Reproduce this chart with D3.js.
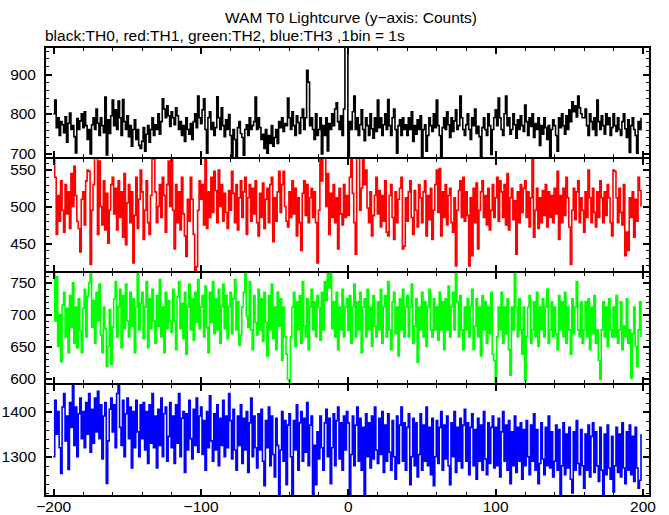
<!DOCTYPE html>
<html><head><meta charset="utf-8">
<script src="https://cdn.jsdelivr.net/npm/d3@7"></script>
<style>body{margin:0;background:#fff} svg{display:block} text{font-family:"Liberation Sans",Arial,Helvetica,sans-serif;}</style>
</head><body><svg id="c" width="669" height="515"></svg>
<script>
const title = "WAM T0 Lightcurve (y\u2212axis: Counts)";
const subtitle = "black:TH0, red:TH1, green:TH2, blue:TH3 ,1bin = 1s";
const tStart = -200; // time of the first 1 s bin

const th0 = [
800,835,765,790,745,780,772,752,792,728,776,802,760,770,742,701,788,760,782,800,
765,805,770,735,760,698,772,790,760,812,776,745,790,770,752,842,696,785,750,795,
835,770,810,760,832,790,745,836,780,760,795,742,770,718,760,785,735,760,720,712,
730,765,705,748,770,728,760,790,745,772,760,800,748,780,838,812,790,820,795,768,
805,790,772,815,795,760,780,745,770,730,790,760,748,775,735,780,800,765,845,790,
775,810,838,760,700,790,805,760,778,745,765,843,790,760,815,770,742,785,760,798,
745,690,760,735,692,765,780,750,740,695,760,772,745,790,760,770,780,842,760,790,
765,735,748,712,760,700,745,725,770,718,740,760,725,780,765,790,755,775,770,840,
790,760,805,770,745,795,778,750,790,812,760,790,910,880,770,790,760,735,800,745,
760,790,698,770,745,790,706,775,760,800,770,812,828,780,760,795,745,812,1010,995,
682,780,760,805,845,760,790,745,772,810,760,732,790,770,745,800,762,738,790,755,
835,765,790,745,772,800,760,836,770,745,790,812,760,700,770,785,745,790,760,772,
745,790,760,805,730,770,748,785,760,795,690,760,772,705,745,790,770,755,800,765,
835,770,745,690,765,790,760,805,772,740,790,755,782,810,760,770,845,790,760,745,
772,800,760,735,790,770,812,750,768,742,690,765,790,760,745,800,770,697,760,790,
810,770,840,790,760,745,800,845,770,790,748,760,800,772,738,785,760,795,770,755,
822,780,745,790,768,800,740,775,760,790,720,770,748,790,765,735,770,690,760,785,
770,745,705,790,765,800,770,748,795,760,810,780,830,805,820,792,845,815,800,790,
790,812,770,745,800,780,760,790,745,835,780,760,795,770,748,800,772,790,745,765,
800,770,755,790,760,745,780,800,762,740,785,702,770,790,760,745,700,780,760,790];

const th1 = [
575,540,462,515,480,535,495,465,530,490,520,470,545,500,555,515,480,470,438,510,
520,475,535,550,548,421,495,530,575,570,462,562,500,475,535,468,518,450,495,530,
540,490,525,468,535,485,520,458,545,448,505,530,478,520,423,488,540,470,510,550,
520,455,495,535,478,462,515,570,565,520,478,500,530,485,540,515,465,530,562,500,
575,495,442,530,478,520,468,540,490,460,432,510,480,540,510,462,412,418,495,535,
510,530,475,575,470,520,485,540,492,548,522,478,550,500,530,480,518,492,470,522,
495,548,518,478,530,468,512,535,485,520,540,462,512,530,480,525,490,535,478,460,
518,485,532,470,510,525,478,530,540,452,512,480,520,548,492,530,548,500,480,472,
520,485,535,490,525,460,512,478,440,518,535,488,530,478,512,525,485,520,478,423,
495,572,535,568,570,500,545,462,518,485,530,478,512,442,525,490,475,530,485,515,
488,540,570,518,478,435,572,568,495,525,572,530,550,498,478,520,460,488,515,540,
490,522,472,515,480,535,465,460,515,530,485,455,520,478,510,525,540,442,446,512,
480,520,535,485,462,522,495,472,530,512,478,520,535,460,515,482,525,455,495,530,
550,492,552,460,520,485,530,475,515,525,478,465,512,419,495,522,535,485,540,480,
520,488,419,512,433,525,478,532,442,495,520,535,485,515,475,525,468,495,530,485,
512,540,480,535,520,485,530,475,545,468,512,525,482,508,435,520,478,530,492,525,
535,485,520,472,512,570,458,495,525,470,512,478,522,488,530,472,520,485,515,478,
525,490,548,455,515,478,525,488,540,512,472,421,495,525,482,520,535,478,512,495,
465,520,485,550,512,478,525,492,472,520,485,535,512,478,520,488,530,512,478,460,
550,548,512,478,525,492,475,530,433,465,440,512,485,520,458,510,480,540,522,500];

const th2 = [
765,690,760,650,700,626,715,735,665,710,640,730,680,750,655,712,648,725,675,640,
710,740,665,728,750,767,680,722,655,735,690,748,668,640,712,678,618,650,708,622,
680,725,752,665,712,740,648,730,678,748,690,665,735,682,725,640,712,768,676,718,
735,662,712,752,648,725,678,740,690,655,730,682,755,665,712,640,735,678,722,690,
672,740,690,645,728,752,678,718,662,735,638,712,748,676,725,660,735,688,755,678,
712,730,665,745,680,640,735,688,752,670,725,676,740,655,712,748,678,730,662,712,
735,670,725,755,676,720,652,668,712,735,767,698,680,752,676,645,730,688,668,740,
676,725,658,735,688,635,730,676,748,662,712,645,735,682,725,628,712,665,638,598,
595,665,712,735,650,720,676,730,655,752,682,665,725,645,712,740,676,720,665,730,
712,660,735,676,752,722,767,742,766,678,720,665,735,645,712,676,740,665,712,725,
675,730,655,712,748,665,720,676,735,640,712,725,665,740,676,712,650,730,682,665,
720,676,740,655,712,730,665,752,676,645,720,735,670,712,635,725,676,740,665,712,
730,665,712,748,655,682,725,625,712,676,735,665,720,650,712,740,676,665,725,676,
712,660,735,676,720,645,725,676,745,665,712,735,676,768,720,665,730,676,645,712,
676,725,665,712,740,645,682,725,665,712,635,730,676,720,655,712,670,735,638,628,
595,665,712,676,735,655,712,670,725,645,605,712,676,767,712,665,725,676,638,712,
596,665,712,730,655,676,720,665,735,650,712,676,725,665,712,740,655,676,720,665,
712,670,645,730,676,720,665,735,655,712,676,638,725,670,712,752,676,665,720,655,
676,720,665,725,645,712,670,730,655,676,628,598,676,720,665,712,650,725,676,665,
712,665,730,655,676,720,645,682,665,725,655,676,600,670,712,650,618,676,720,665];

const th3 = [
1300,1425,1350,1400,1320,1263,1410,1440,1335,1390,1272,1420,1365,1458,1325,1410,1300,1395,1430,1340,
1400,1320,1420,1350,1440,1310,1405,1330,1430,1355,1445,1340,1415,1295,1390,1420,1241,1335,1405,1430,
1355,1415,1320,1440,1461,1365,1325,1425,1300,1395,1430,1340,1410,1275,1400,1320,1425,1355,1300,1415,
1340,1420,1315,1400,1285,1415,1330,1440,1320,1390,1275,1405,1325,1430,1300,1395,1410,1290,1345,1420,
1320,1390,1285,1415,1330,1440,1300,1385,1400,1265,1395,1315,1425,1340,1295,1405,1325,1430,1310,1390,
1410,1305,1380,1270,1400,1320,1435,1335,1290,1395,1315,1415,1280,1385,1325,1425,1300,1390,1320,1440,
1380,1295,1405,1315,1270,1390,1325,1415,1285,1385,1315,1400,1265,1375,1430,1300,1390,1320,1275,1395,
1315,1405,1290,1236,1380,1320,1410,1280,1390,1305,1255,1385,1325,1215,1315,1400,1290,1380,1238,1370,
1395,1300,1215,1380,1315,1415,1270,1375,1400,1290,1385,1310,1420,1280,1370,1390,1214,1325,1238,1355,
1295,1390,1320,1270,1375,1405,1300,1385,1240,1320,1395,1280,1380,1410,1295,1375,1270,1390,1315,1400,
1375,1216,1305,1390,1280,1370,1410,1290,1385,1270,1365,1215,1395,1300,1375,1275,1390,1295,1410,1315,
1285,1385,1305,1400,1265,1370,1290,1395,1310,1270,1380,1300,1250,1390,1285,1370,1410,1290,1375,1270,
1365,1395,1238,1300,1385,1280,1375,1255,1305,1395,1270,1370,1290,1410,1280,1365,1260,1385,1236,1300,
1380,1285,1365,1400,1270,1370,1295,1390,1280,1238,1375,1300,1400,1265,1365,1290,1385,1275,1370,1405,
1290,1375,1260,1365,1395,1280,1360,1250,1385,1290,1370,1270,1400,1295,1260,1375,1285,1365,1390,1275,
1365,1280,1385,1255,1355,1400,1290,1370,1270,1380,1240,1355,1280,1390,1265,1365,1290,1375,1250,1360,
1280,1380,1300,1260,1370,1290,1395,1270,1360,1240,1285,1375,1295,1260,1365,1280,1390,1275,1355,1255,
1290,1370,1270,1360,1213,1280,1375,1260,1350,1275,1365,1250,1220,1355,1270,1380,1285,1260,1360,1280,
1230,1350,1270,1370,1255,1345,1375,1265,1355,1280,1245,1365,1270,1213,1350,1260,1370,1275,1250,1345,
1222,1280,1365,1265,1350,1255,1375,1275,1240,1355,1270,1370,1260,1345,1245,1365,1275,1230,1248,1350];

const seriesList = [th0, th1, th2, th3];
const seriesColors = ["#000000", "#ff0000", "#00ff00", "#0000ff"];
const yDomains = [[688, 969], [410.6, 566.3], [591, 767], [1213, 1461]];
const yMajorTicks = [[700, 800, 900], [450, 500, 550], [600, 650, 700, 750], [1300, 1400]];
const yMinorStep = [20, 10, 10, 20];
const xMajorTicks = [-200, -100, 0, 100, 200];
const xMinorStep = 20;
const xDomain = [-205.6, 205.1];

const left = 45, right = 650;
const panelTops = [47, 158, 272, 384];
const panelBottoms = [158, 272, 384, 496];
const FS = "15.5px";

const svg = d3.select("#c");
const x = d3.scaleLinear().domain(xDomain).range([left, right]);

svg.append("text").attr("x", 351).attr("y", 23).attr("text-anchor", "middle")
  .style("font-size", FS).text(title);
svg.append("text").attr("x", 45).attr("y", 41).attr("text-anchor", "start")
  .style("font-size", FS).text(subtitle);

const xMinor = d3.range(-200, 201, xMinorStep).filter(v => v % 100 !== 0);
const defs = svg.append("defs");

seriesList.forEach((vals, i) => {
  const top = panelTops[i], bot = panelBottoms[i];
  const y = d3.scaleLinear().domain(yDomains[i]).range([bot, top]);
  const g = svg.append("g");
  defs.append("clipPath").attr("id", "clip" + i)
    .append("rect").attr("x", left).attr("y", top).attr("width", right - left).attr("height", bot - top);

  const line = d3.line().x((d, k) => x(tStart + k)).y(d => y(d)).curve(d3.curveStepAfter);
  g.append("path").datum(vals).attr("clip-path", "url(#clip" + i + ")")
    .attr("fill", "none").attr("stroke", seriesColors[i]).attr("stroke-width", 1.6)
    .attr("stroke-linejoin", "miter").attr("d", line);

  const [y0, y1] = yDomains[i];
  const yMinor = [];
  for (let v = Math.ceil(y0 / yMinorStep[i]) * yMinorStep[i]; v <= y1; v += yMinorStep[i]) {
    if (!yMajorTicks[i].includes(v)) yMinor.push(v);
  }
  const styleAxis = (sel, w) => {
    sel.select(".domain").remove();
    sel.selectAll("line").attr("stroke", "#000").attr("stroke-width", w).attr("shape-rendering", "crispEdges");
  };

  g.append("g").attr("transform", `translate(${left},0)`)
    .call(d3.axisLeft(y).tickValues(yMinor).tickSizeInner(-4).tickSizeOuter(0).tickFormat(""))
    .call(s => styleAxis(s, 1));
  g.append("g").attr("transform", `translate(${right},0)`)
    .call(d3.axisRight(y).tickValues(yMinor).tickSizeInner(-4).tickSizeOuter(0).tickFormat(""))
    .call(s => styleAxis(s, 1));
  const la = g.append("g").attr("transform", `translate(${left},0)`)
    .call(d3.axisLeft(y).tickValues(yMajorTicks[i]).tickSizeInner(-7).tickSizeOuter(0).tickPadding(9).tickFormat(d3.format("d")))
    .call(s => styleAxis(s, 2));
  la.selectAll("text").style("font-size", FS).attr("fill", "#000").style("font-family", '"Liberation Sans",Arial,sans-serif');
  g.append("g").attr("transform", `translate(${right},0)`)
    .call(d3.axisRight(y).tickValues(yMajorTicks[i]).tickSizeInner(-7).tickSizeOuter(0).tickFormat(""))
    .call(s => styleAxis(s, 2));

  g.append("g").attr("transform", `translate(0,${top})`)
    .call(d3.axisTop(x).tickValues(xMinor).tickSizeInner(-4).tickSizeOuter(0).tickFormat(""))
    .call(s => styleAxis(s, 1));
  g.append("g").attr("transform", `translate(0,${top})`)
    .call(d3.axisTop(x).tickValues(xMajorTicks).tickSizeInner(-7).tickSizeOuter(0).tickFormat(""))
    .call(s => styleAxis(s, 2));
  g.append("g").attr("transform", `translate(0,${bot})`)
    .call(d3.axisBottom(x).tickValues(xMinor).tickSizeInner(-4).tickSizeOuter(0).tickFormat(""))
    .call(s => styleAxis(s, 1));
  const ba = g.append("g").attr("transform", `translate(0,${bot})`)
    .call(d3.axisBottom(x).tickValues(xMajorTicks).tickSizeInner(-7).tickSizeOuter(0).tickPadding(5)
      .tickFormat(i === seriesList.length - 1 ? d3.format("d") : ""))
    .call(s => styleAxis(s, 2));
  ba.selectAll("text").style("font-size", FS).attr("fill", "#000").style("font-family", '"Liberation Sans",Arial,sans-serif');

  g.append("rect").attr("x", left).attr("y", top).attr("width", right - left).attr("height", bot - top)
    .attr("fill", "none").attr("stroke", "#000").attr("stroke-width", 1.5).attr("shape-rendering", "crispEdges");
});
</script></body></html>
